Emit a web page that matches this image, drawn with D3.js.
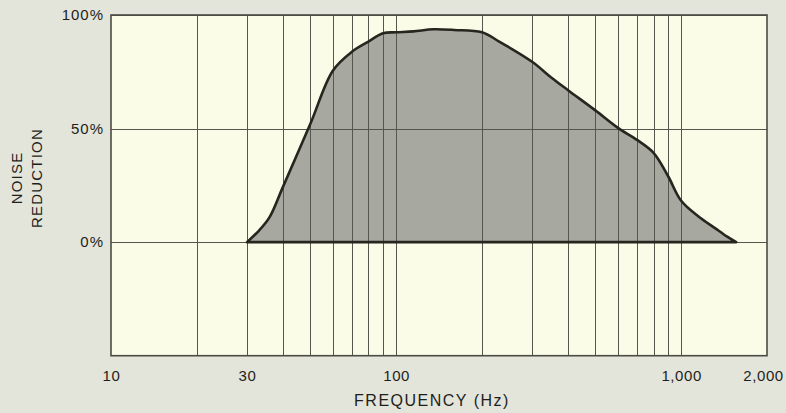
<!DOCTYPE html>
<html>
<head>
<meta charset="utf-8">
<script src="https://cdn.jsdelivr.net/npm/d3@7"></script>
<style>
  html, body { margin: 0; padding: 0; background: #e3e4da; }
  svg { display: block; }
  text { font-family: "Liberation Sans", Arial, Helvetica, sans-serif; fill: #1e1e1a; }
</style>
</head>
<body>
<svg id="chart" width="786" height="413"></svg>
<script>
// Noise reduction versus frequency (log frequency axis)
const frequency = [30, 33, 36, 40, 50, 60, 70, 80, 90, 100, 115, 135, 160, 200, 230, 300, 350, 400, 500, 600, 700, 800, 900, 1000, 1150, 1310, 1450, 1560];
const reduction = [0, 5, 11, 24, 52, 75.5, 83.8, 88.3, 92, 92.4, 92.8, 93.7, 93.4, 92.4, 88.3, 79.4, 72.5, 67, 58, 50.3, 45, 39.3, 29, 18.2, 11.3, 6.3, 2.4, 0];

const gridFrequencies = [20, 30, 40, 50, 60, 70, 80, 90, 100, 200, 300, 400, 500, 600, 700, 800, 900, 1000];
const xTickValues = [10, 30, 100, 1000, 2000];
const yGridValues = [0, 50, 100];
const yTickValues = [0, 50, 100];

const svg = d3.select("#chart");
const W = 786, H = 413;

const x = d3.scaleLog().domain([10, 2000]).range([111, 767]);
const y = d3.scaleLinear().domain([-50, 100]).range([355.7, 15]);

svg.append("rect").attr("width", W).attr("height", H).attr("fill", "#e3e4da");

// plot face
svg.append("rect")
  .attr("x", x(10)).attr("y", y(100))
  .attr("width", x(2000) - x(10)).attr("height", y(-50) - y(100))
  .attr("fill", "#fbfce8");

const data = frequency.map((f, i) => ({ f, v: reduction[i] }));

const area = d3.area()
  .x(d => x(d.f))
  .y0(y(0))
  .y1(d => y(d.v))
  .curve(d3.curveCatmullRom.alpha(0.5));

// shaded region
svg.append("path")
  .datum(data)
  .attr("d", area)
  .attr("fill", "#a7a8a0");

// grid
const grid = svg.append("g").attr("stroke", "#55564d").attr("stroke-width", 1);
grid.selectAll("line.v")
  .data(gridFrequencies)
  .join("line")
  .attr("class", "v")
  .attr("x1", d => Math.round(x(d)) + 0.5).attr("x2", d => Math.round(x(d)) + 0.5)
  .attr("y1", y(100)).attr("y2", y(-50));
grid.selectAll("line.h")
  .data(yGridValues)
  .join("line")
  .attr("class", "h")
  .attr("x1", x(10)).attr("x2", x(2000))
  .attr("y1", d => Math.round(y(d)) + 0.5).attr("y2", d => Math.round(y(d)) + 0.5);

// outline of the shaded region (curve and baseline)
svg.append("path")
  .datum(data)
  .attr("d", area)
  .attr("fill", "none")
  .attr("stroke", "#26261f")
  .attr("stroke-width", 2.6)
  .attr("stroke-linejoin", "round");

// frame
svg.append("rect")
  .attr("x", x(10)).attr("y", y(100))
  .attr("width", x(2000) - x(10)).attr("height", y(-50) - y(100))
  .attr("fill", "none")
  .attr("stroke", "#4a4b43")
  .attr("stroke-width", 1.6);

// x tick labels
const xAxis = d3.axisBottom(x)
  .tickValues(xTickValues)
  .tickFormat(d3.format(","))
  .tickSize(0)
  .tickPadding(0);
const gx = svg.append("g").attr("transform", "translate(0,370)").call(xAxis);
gx.select(".domain").remove();
gx.selectAll("text")
  .attr("dy", "0.71em")
  .style("font-size", "15px")
  .style("letter-spacing", "0.6px")
  .style("fill", "#1e1e1a");
// keep the last label inside the page
gx.selectAll(".tick")
  .filter(d => d === 2000)
  .select("text")
  .attr("dx", -4);

// y tick labels
const yAxis = d3.axisLeft(y)
  .tickValues(yTickValues)
  .tickFormat(d => d + "%")
  .tickSize(0)
  .tickPadding(0);
const gy = svg.append("g").attr("transform", "translate(104,0)").call(yAxis);
gy.select(".domain").remove();
gy.selectAll("text")
  .style("font-size", "15px")
  .style("letter-spacing", "1px")
  .style("fill", "#1e1e1a");

// axis titles
svg.append("text")
  .attr("x", 432).attr("y", 406)
  .attr("text-anchor", "middle")
  .style("font-size", "16px")
  .style("letter-spacing", "1.5px")
  .text("FREQUENCY (Hz)");

const yTitle = svg.append("g").attr("transform", "translate(0,178) rotate(-90)");
yTitle.append("text")
  .attr("x", 0).attr("y", 22)
  .attr("text-anchor", "middle")
  .style("font-size", "15px")
  .style("letter-spacing", "1.2px")
  .text("NOISE");
yTitle.append("text")
  .attr("x", 0).attr("y", 42)
  .attr("text-anchor", "middle")
  .style("font-size", "15px")
  .style("letter-spacing", "1.2px")
  .text("REDUCTION");
</script>
</body>
</html>
